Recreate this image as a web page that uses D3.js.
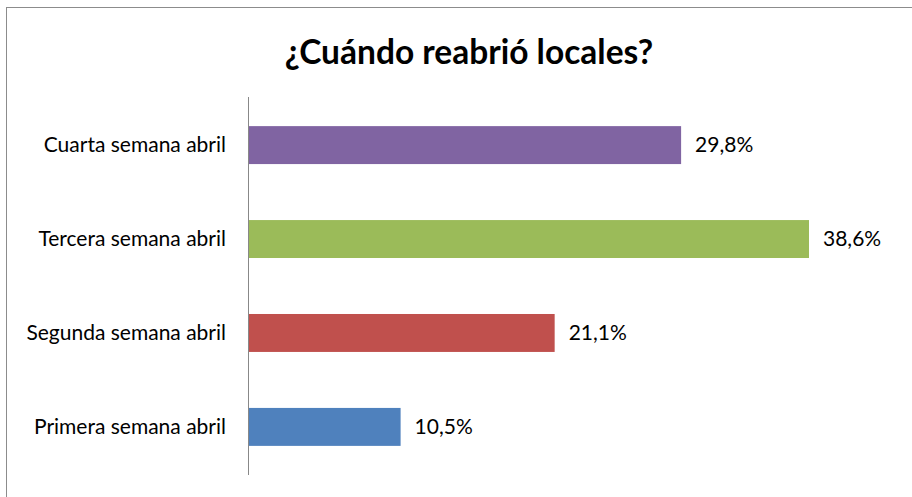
<html>
<head>
    <script src="https://d3js.org/d3.v7.min.js"></script>
    <style>
        body { margin: 0; background: #fff; }
        text { font-family: Lato, "Open Sans", sans-serif; fill: #000; }
    </style>
</head>
<body>
    <svg id="chart" width="912" height="497"></svg>
    <script>
        var categories = ["Cuarta semana abril", "Tercera semana abril", "Segunda semana abril", "Primera semana abril"];
        var values = [29.8, 38.6, 21.1, 10.5];
        var labels = ["29,8%", "38,6%", "21,1%", "10,5%"];
        var colors = ["#8064A2", "#9BBB59", "#C0504D", "#4F81BD"];

        var svg = d3.select("#chart");

        // chart frame
        svg.append("rect")
            .attr("x", 6.5).attr("y", 7.5)
            .attr("width", 920).attr("height", 500)
            .attr("fill", "none")
            .attr("stroke", "#8c8c8c")
            .attr("stroke-width", 1);

        svg.append("text")
            .attr("x", 469)
            .attr("y", 64)
            .attr("text-anchor", "middle")
            .style("font-size", "33.5px")
            .style("font-weight", "bold")
            .text("¿Cuándo reabrió locales?");

        var x0 = 248, yTop = 97, yBot = 475;
        var xScale = d3.scaleLinear().domain([0, 38.6]).range([x0, 809]);
        var yScale = d3.scaleBand().domain(categories).range([yTop, yBot]).paddingInner(0.596).paddingOuter(0.31);

        var g = svg.append("g");

        g.selectAll(".bar")
            .data(values)
            .enter().append("rect")
            .attr("class", "bar")
            .attr("x", x0)
            .attr("y", function (_, i) { return yScale(categories[i]); })
            .attr("width", function (d) { return xScale(d) - x0; })
            .attr("height", yScale.bandwidth())
            .attr("fill", function (_, i) { return colors[i]; });

        g.selectAll(".val")
            .data(values)
            .enter().append("text")
            .attr("class", "val")
            .attr("x", function (d) { return xScale(d) + 14; })
            .attr("y", function (_, i) { return yScale(categories[i]) + yScale.bandwidth() / 2; })
            .attr("dy", "0.35em")
            .style("font-size", "21px")
            .text(function (_, i) { return labels[i]; });

        // category axis
        var axis = g.append("g")
            .attr("transform", "translate(" + x0 + ",0)")
            .call(d3.axisLeft(yScale).tickSize(0).tickPadding(22));
        axis.select(".domain").attr("stroke", "#888").attr("d", "M0.5," + yTop + "V" + yBot);
        axis.selectAll("text")
            .style("font-size", "21px")
            .style("font-family", "Lato, 'Open Sans', sans-serif");
    </script>
</body>
</html>
